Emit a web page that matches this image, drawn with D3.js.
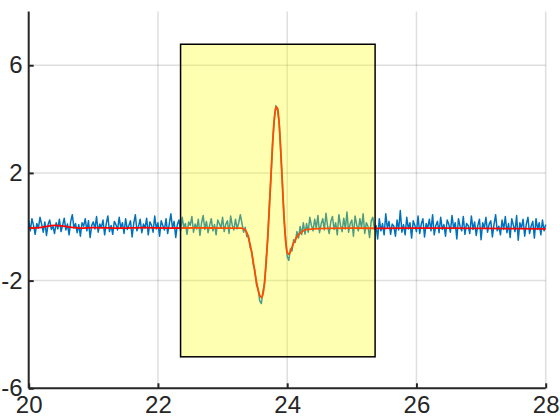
<!DOCTYPE html>
<html><head><meta charset="utf-8">
<script src="https://cdn.jsdelivr.net/npm/d3@7"></script>
<style>body{margin:0;background:#fff}svg{display:block}</style>
</head><body>
<script>
// ---- data ----
const xStart = 20, xStep = 0.025;
const blueY = [
 0.22,-0.15,0.30,0.05,-0.28,0.12,-0.05,0.35,0.10,-0.20,0.18,-0.32,0.08,0.25,-0.10,0.02,-0.25,0.15,-0.08,0.28,
 -0.18,0.05,0.32,-0.12,0.10,-0.30,0.20,0.45,-0.05,0.12,-0.22,0.08,-0.35,0.15,0.02,0.30,-0.15,0.22,-0.40,0.05,
 0.18,-0.08,0.38,-0.20,0.10,-0.02,0.25,-0.30,0.12,0.40,-0.18,0.05,-0.28,0.20,0.08,-0.12,0.35,-0.05,0.15,-0.25,
 0.30,-0.10,0.05,0.22,-0.38,0.12,0.45,-0.15,0.02,0.28,-0.22,0.10,-0.05,0.32,-0.30,0.18,0.06,-0.20,0.40,-0.08,
 0.15,-0.35,0.22,0.05,-0.12,0.30,-0.25,0.10,0.48,-0.05,0.20,-0.40,0.08,0.25,-0.15,0.35,-0.02,0.12,-0.28,0.18,
 0.05,0.38,-0.20,0.10,-0.08,0.28,-0.32,0.15,0.42,-0.10,0.20,-0.22,0.05,0.30,-0.15,0.08,-0.30,0.25,0.12,-0.05,
 0.35,-0.18,0.10,0.22,-0.25,0.40,0.05,-0.12,0.28,-0.08,0.15,0.45,
 0.13,-0.20,-0.02,-0.37,-0.32,-0.77,-0.90,-1.40,-1.62,-2.17,-2.30,-2.75,-2.85,-2.40,-2.10,-1.22,-0.40,0.85,1.90,3.18,
 3.95,4.50,4.32,3.90,2.75,1.68,0.35,-0.40,-1.10,-1.25,-0.82,-0.90,-0.48,-0.58,-0.18,-0.42,0.01,-0.29,0.15,-0.27,0.12,
 -0.20,0.35,0.05,-0.15,0.28,-0.05,0.42,-0.22,0.10,0.30,-0.12,0.50,0.02,-0.25,0.20,0.38,-0.10,0.15,-0.30,0.45,
 0.05,-0.18,0.32,-0.08,0.55,-0.20,0.12,0.25,-0.35,0.40,0.08,-0.15,0.30,-0.05,0.48,-0.25,0.15,0.02,-0.40,0.22,
 0.35,-0.10,0.05,-0.45,0.30,-0.15,0.12,-0.30,0.48,-0.05,0.20,-0.28,0.10,0.02,-0.35,0.25,-0.12,0.60,-0.20,0.08,
 -0.30,0.35,-0.08,0.15,-0.42,0.22,0.05,-0.18,0.40,-0.25,0.10,0.30,-0.38,0.12,-0.05,0.28,-0.15,0.45,-0.30,0.05,
 0.20,-0.22,0.35,-0.10,0.08,-0.35,0.25,0.10,-0.20,0.42,-0.05,0.15,-0.45,0.30,0.02,-0.15,0.38,-0.28,0.12,0.05,
 -0.25,0.40,-0.10,0.18,-0.32,0.05,0.28,-0.48,0.15,-0.05,0.35,-0.20,0.10,0.22,-0.38,0.08,0.45,-0.15,0.02,-0.30,
 0.25,-0.10,0.38,-0.22,0.12,-0.40,0.30,0.05,-0.18,0.42,-0.50,0.15,-0.05,0.28,-0.35,0.10,0.35,-0.25,0.02,0.20,
 -0.42,0.30,-0.10,0.15,-0.30,0.25,-0.15,0.08
];
const redX = [20.0,20.2,20.4,20.6,20.8,21.0,21.4,21.8,22.2,22.6,23.0,23.2,
 23.300,23.325,23.350,23.375,23.400,23.425,23.450,23.475,23.500,23.525,23.550,23.575,23.600,23.625,23.650,23.675,
 23.700,23.725,23.750,23.775,23.800,23.825,23.850,23.875,23.900,23.925,23.950,23.975,24.000,24.025,24.050,24.075,
 24.100,24.125,24.150,24.175,24.200,24.225,24.250,24.275,24.300,
 24.4,24.6,25.0,25.5,26.0,26.5,27.0,27.5,28.0];
const redY = [-0.05,-0.02,0.05,0.0,-0.05,-0.03,-0.05,-0.03,-0.05,-0.04,-0.05,-0.05,
 -0.05,-0.08,-0.12,-0.22,-0.40,-0.65,-0.95,-1.30,-1.70,-2.05,-2.35,-2.55,-2.62,-2.50,-2.05,-1.30,
 -0.35,0.75,1.95,3.10,4.00,4.45,4.40,3.85,2.85,1.60,0.40,-0.50,-0.95,-1.02,-0.92,-0.75,
 -0.60,-0.48,-0.38,-0.30,-0.24,-0.19,-0.15,-0.12,-0.10,
 -0.08,-0.06,-0.05,-0.06,-0.05,-0.05,-0.06,-0.07,-0.08];
const boxX = [22.35, 25.36];
const boxY = [-4.83, 6.78];
const xTicks = [20, 22, 24, 26, 28];
const yTicks = [-6, -2, 2, 6];
const xDomain = [20, 28];
const yDomain = [-6, 8];

// ---- chart ----
const W = 560, H = 420;
const m = {left: 28.7, right: 14.3, top: 11.4, bottom: 31.7};
const svg = d3.select("body").append("svg").attr("width", W).attr("height", H);
const x = d3.scaleLinear().domain(xDomain).range([m.left, W - m.right]);
const y = d3.scaleLinear().domain(yDomain).range([H - m.bottom, m.top]);
const font = "'Liberation Sans', Arial, Helvetica, sans-serif";

// grid
const grid = svg.append("g").attr("stroke", "#262626").attr("stroke-opacity", 0.15).attr("stroke-width", 1.5);
grid.selectAll(".gx").data(xTicks.filter(t => t !== xDomain[0])).join("line")
  .attr("x1", d => x(d)).attr("x2", d => x(d)).attr("y1", y(yDomain[0])).attr("y2", y(yDomain[1]));
grid.selectAll(".gy").data(yTicks.filter(t => t !== yDomain[0])).join("line")
  .attr("x1", x(xDomain[0])).attr("x2", x(xDomain[1])).attr("y1", d => y(d)).attr("y2", d => y(d));

// lines
const blueData = blueY.map((v, i) => [xStart + i * xStep, v]);
const redData = redX.map((v, i) => [v, redY[i]]);
const line = d3.line().x(d => x(d[0])).y(d => y(d[1]));
svg.append("path").datum(blueData).attr("d", line).attr("fill", "none")
  .attr("stroke", "#0072BD").attr("stroke-width", 1.5).attr("stroke-linejoin", "round");
svg.append("path").datum(redData).attr("d", d3.line().curve(d3.curveMonotoneX).x(d => x(d[0])).y(d => y(d[1])))
  .attr("fill", "none").attr("stroke", "#FF0000").attr("stroke-width", 1.8);

// box
svg.append("rect")
  .attr("x", x(boxX[0])).attr("y", y(boxY[1]))
  .attr("width", x(boxX[1]) - x(boxX[0])).attr("height", y(boxY[0]) - y(boxY[1]))
  .attr("fill", "#FFFF00").attr("fill-opacity", 0.3)
  .attr("stroke", "#000").attr("stroke-width", 1.5);

// axes
const fmt = d => String(d);
const xAxis = d3.axisBottom(x).tickValues(xTicks).tickFormat(fmt).tickSizeInner(-5).tickSizeOuter(0).tickPadding(14);
const yAxis = d3.axisLeft(y).tickValues(yTicks).tickFormat(fmt).tickSizeInner(-5).tickSizeOuter(0).tickPadding(12);
const gx = svg.append("g").attr("transform", `translate(0,${y(yDomain[0])})`).call(xAxis);
const gy = svg.append("g").attr("transform", `translate(${x(xDomain[0])},0)`).call(yAxis);
[gx, gy].forEach(g => {
  g.select(".domain").attr("stroke", "#262626").attr("stroke-width", 2);
  g.selectAll(".tick line").attr("stroke", "#262626").attr("stroke-width", 2);
  g.selectAll("text").attr("fill", "#262626").style("font-family", font).style("font-size", "24px");
});
gy.select(".domain").attr("d", `M0,${y(yDomain[0])}V${y(yDomain[1])}`);
gx.select(".domain").attr("d", `M${x(xDomain[0])},0H${x(xDomain[1])}`);
gx.selectAll("text").attr("dy", "0.71em").attr("y", 8);
gy.selectAll("text").attr("x", -6);
</script>
</body></html>
